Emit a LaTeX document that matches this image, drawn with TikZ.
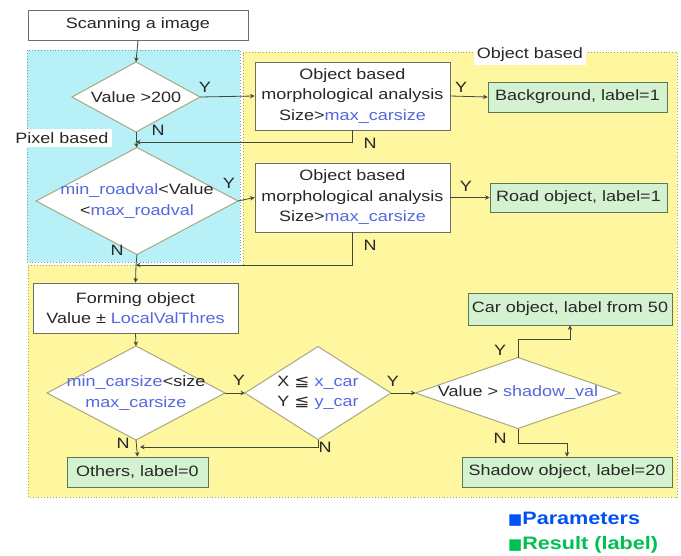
\documentclass[tikz,border=0pt]{standalone}
\usepackage{fontspec}
\setmainfont[FakeStretch=1.2]{Liberation Sans}
\newfontfamily\symfont[FakeStretch=1.2]{DejaVu Sans}
\newfontfamily\sqfont{DejaVu Sans}
\usetikzlibrary{shapes.geometric,arrows.meta}
\definecolor{cyanf}{RGB}{184,240,248}
\definecolor{cyanb}{RGB}{120,160,170}
\definecolor{yellowf}{RGB}{255,246,160}
\definecolor{yellowb}{RGB}{170,165,90}
\definecolor{greenf}{RGB}{212,242,208}
\definecolor{greenb}{RGB}{90,120,90}
\definecolor{boxc}{RGB}{110,110,100}
\definecolor{diac}{RGB}{168,168,128}
\definecolor{linec}{RGB}{60,75,60}
\definecolor{param}{RGB}{84,104,224}
\definecolor{txt}{RGB}{40,40,40}
\definecolor{legblue}{RGB}{0,80,245}
\definecolor{leggreen}{RGB}{0,192,80}
\newcommand{\prm}[1]{\textcolor{param}{#1}}
\newcommand{\myleq}{{\symfont ≦}}
\newcommand{\legsq}{{\sqfont\fontsize{15}{15}\selectfont ■}}
\begin{document}
\begin{tikzpicture}[x=1pt,y=-1pt,
  font=\fontsize{15}{20.5}\selectfont,
  box/.style={draw=boxc, fill=white, line width=0.8pt, inner sep=0pt, align=center, text=txt},
  res/.style={draw=greenb, fill=greenf, line width=0.8pt, inner sep=0pt, align=center, text=txt},
  dec/.style={diamond, draw=diac, fill=white, line width=1pt, inner sep=0pt, outer sep=0pt},
  dtext/.style={inner sep=0pt, align=center, text=txt},
  conn/.style={draw=linec, line width=0.8pt, -{Stealth[length=4.5pt,width=4.5pt]}},
  plain/.style={draw=linec, line width=0.8pt},
  yn/.style={text=txt, inner sep=1pt},
  region/.style={line width=0.9pt, dotted},
  tag/.style={fill=white, text=txt, inner sep=3pt}]
\useasboundingbox (0,0) rectangle (681,555);

% regions
\path[fill=cyanf, draw=cyanb, region] (27,50) rectangle (240,262);
\path[fill=yellowf, draw=yellowb, region] (243,52) -- (677,52) -- (677,497) -- (28,497) -- (28,265) -- (243,265) -- cycle;
\node[tag] (objtag) at (530,55) {Object based};
\node[tag] (pixtag) at (62,138) {Pixel based};

% nodes
\node[box, minimum width=220pt, minimum height=30pt] (scan) at (138,25) {Scanning a image};
\node[dec, minimum width=128pt, minimum height=70pt] (d1) at (136,97) {};
\node[dtext] (t1) at (d1) {Value >200};
\node[dec, minimum width=202pt, minimum height=107pt] (d2) at (137,201) {};
\node[dtext] (t2) at (d2) {\prm{min\_roadval}<Value\\<\prm{max\_roadval}};
\node[box, minimum width=195pt, minimum height=68pt] (b1) at (352.5,96) {Object based\\morphological analysis\\Size>\prm{max\_carsize}};
\node[box, minimum width=195pt, minimum height=69pt] (b2) at (352.5,197.5) {Object based\\morphological analysis\\Size>\prm{max\_carsize}};
\node[res, minimum width=179pt, minimum height=30pt] (bg) at (577.5,97) {Background, label=1};
\node[res, minimum width=177pt, minimum height=29pt] (road) at (578.5,197.5) {Road object, label=1};
\node[box, minimum width=205pt, minimum height=50pt] (form) at (135.5,308) {Forming object\\Value ± \prm{LocalValThres}};
\node[dec, minimum width=178pt, minimum height=94pt] (d3) at (136,393) {};
\node[dtext] (t3) at (d3) {\prm{min\_carsize}<size\\\prm{max\_carsize}};
\node[dec, minimum width=146pt, minimum height=93pt] (d4) at (318,393) {};
\node[dtext] (t4) at (d4) {X \myleq{} \prm{x\_car}\\Y \myleq{} \prm{y\_car}};
\node[dec, minimum width=205pt, minimum height=71pt] (d5) at (518,393) {};
\node[dtext] (t5) at (d5) {Value > \prm{shadow\_val}};
\node[res, minimum width=204pt, minimum height=32pt] (car) at (570,309) {Car object, label from 50};
\node[res, minimum width=210pt, minimum height=30pt] (shadow) at (567,472) {Shadow object, label=20};
\node[res, minimum width=141pt, minimum height=30pt] (others) at (137.5,472) {Others, label=0};

\coordinate (j1) at (136,142);
\coordinate (j2) at (136,265);
\coordinate (j3) at (136,447);

% connectors
\draw[conn] (scan.south) -- (d1.north);
\draw[conn] (d1.east) -- (b1.west);
\draw[conn] (b1.east) -- (bg.west);
\draw[conn] (b2.east) -- (road.west);
\draw[plain] (d1.south) -- (j1);
\draw[conn] (b1.south) |- (j1);
\draw[conn] (j1) -- (d2.north);
\draw[conn] (d2.east) -- (b2.west);
\draw[plain] (d2.south) -- (j2);
\draw[conn] (b2.south) |- (j2);
\draw[conn] (j2) -- (form.north);
\draw[conn] (form.south) -- (d3.north);
\draw[conn] (d3.east) -- (d4.west);
\draw[conn] (d4.east) -- (d5.west);
\draw[conn] (d5.north) -- ++(0,-18) -| (car.south);
\draw[conn] (d5.south) -- ++(0,15) -| (shadow.north);
\draw[conn] (d4.south) |- ([xshift=4pt]j3);
\draw[conn] (d3.south) -- (others.north);

% Y / N labels
\node[yn] (y1) at (205,87) {Y};
\node[yn] (n1) at (158,130) {N};
\node[yn] (y2) at (461,87) {Y};
\node[yn] (n2) at (370,143) {N};
\node[yn] (y3) at (229,183) {Y};
\node[yn] (n3) at (117,250) {N};
\node[yn] (y4) at (466,186) {Y};
\node[yn] (n4) at (370,245) {N};
\node[yn] (y5) at (239,380) {Y};
\node[yn] (y6) at (393,381) {Y};
\node[yn] (y7) at (500,350) {Y};
\node[yn] (n5) at (500,438) {N};
\node[yn] (n6) at (123,443) {N};
\node[yn] (n7) at (325,447) {N};

% legend
\node[anchor=west, font=\fontsize{18}{20}\selectfont\bfseries, text=legblue, inner sep=0pt] (lg1) at (508,519) {\legsq Parameters};
\node[anchor=west, font=\fontsize{18}{20}\selectfont\bfseries, text=leggreen, inner sep=0pt] (lg2) at (508,545) {\legsq Result (label)};
\end{tikzpicture}
\end{document}
